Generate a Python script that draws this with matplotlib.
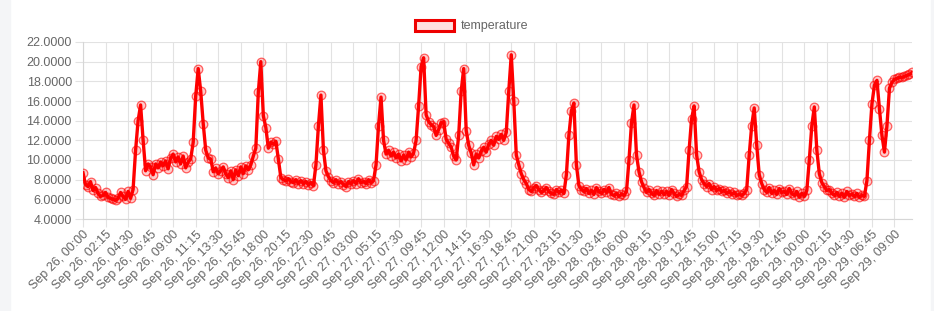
import numpy as np
import matplotlib
matplotlib.use('Agg')
import matplotlib.pyplot as plt
from matplotlib.patches import Patch, Rectangle

# temperature readings, 15 min apart, starting Sep 26 00:00
sep26 = [8.7, 7.5, 7.3, 7.8, 6.9, 7.2, 6.6, 6.3, 6.4, 6.7, 6.2, 6.1,
         6.0, 5.9, 6.1, 6.7, 6.3, 6.0, 6.8, 6.1, 7.0, 11.0, 14.0, 15.6,
         12.0, 8.9, 9.6, 9.3, 8.5, 9.6, 9.2, 9.8, 9.4, 9.9, 9.1, 10.2,
         10.6, 9.8, 10.3, 9.6, 10.4, 9.2, 9.8, 10.1, 11.8, 16.5, 19.3, 17.0,
         13.7, 11.0, 10.2, 10.1, 8.8, 9.2, 8.6, 8.9, 9.3, 8.6, 8.2, 8.9,
         8.0, 9.0, 8.4, 9.3, 8.6, 9.4, 9.0, 9.5, 10.4, 11.2, 16.9, 20.0,
         14.5, 13.3, 11.2, 11.8, 11.6, 11.9, 10.1, 8.2, 8.0, 7.9, 8.1, 7.8,
         7.7, 8.0, 7.6, 7.9, 7.6, 7.8, 7.5, 7.7, 7.4, 9.5, 13.5, 16.6]
sep27 = [11.0, 8.9, 8.3, 7.9, 7.7, 8.0, 7.6, 7.8, 7.5, 7.3, 7.8, 7.6,
         7.9, 7.6, 8.1, 7.7, 7.8, 7.6, 8.0, 7.7, 7.9, 9.5, 13.5, 16.4,
         12.0, 10.6, 11.0, 10.4, 10.8, 10.2, 10.6, 9.9, 10.5, 10.0, 10.8, 10.3,
         10.7, 12.0, 15.5, 19.5, 20.4, 14.6, 13.9, 13.6, 13.4, 12.5, 13.1, 13.8,
         13.9, 12.1, 11.7, 11.3, 10.4, 10.0, 12.5, 17.0, 19.3, 13.0, 11.5, 10.7,
         9.5, 10.6, 10.2, 10.9, 11.3, 10.8, 11.6, 12.0, 11.5, 12.4, 12.1, 12.6,
         12.0, 12.8, 17.0, 20.7, 16.0, 10.5, 9.5, 8.6, 8.0, 7.6, 7.0, 6.8,
         7.2, 7.4, 7.0, 6.7, 6.9, 7.2, 6.8, 6.6, 6.5, 7.0, 6.7, 6.9]
sep28 = [6.6, 8.5, 12.5, 15.0, 15.8, 9.5, 7.4, 7.0, 6.8, 7.1, 6.6, 6.9,
         6.5, 7.2, 6.8, 6.6, 7.0, 6.7, 7.2, 6.5, 6.4, 6.6, 6.3, 6.5,
         6.4, 6.8, 10.0, 13.8, 15.6, 10.5, 8.8, 7.8, 7.2, 6.7, 7.0, 6.6,
         6.4, 6.9, 6.5, 6.8, 6.5, 6.8, 6.4, 7.0, 6.6, 6.3, 6.5, 6.4,
         6.9, 7.3, 11.0, 14.2, 15.5, 10.5, 8.8, 8.0, 7.6, 7.3, 7.6, 7.0,
         7.3, 6.9, 7.1, 6.8, 6.9, 6.6, 6.8, 6.5, 6.7, 6.4, 6.5, 6.4,
         6.6, 7.0, 10.5, 13.5, 15.3, 11.5, 8.5, 7.6, 7.0, 6.7, 7.2, 6.6,
         6.9, 6.5, 7.1, 6.7, 6.8, 6.5, 7.1, 6.6, 6.4, 6.8, 6.2, 6.6]
sep29 = [6.3, 6.9, 10.0, 13.5, 15.4, 11.0, 8.6, 7.7, 7.3, 6.9, 7.0, 6.6,
         6.4, 6.7, 6.3, 6.6, 6.2, 6.8, 6.4, 6.5, 6.3, 6.6, 6.2, 6.4,
         6.3, 7.9, 12.0, 15.7, 17.6, 18.1, 15.2, 12.5, 10.8, 13.5, 17.3, 17.9,
         18.2, 18.3, 18.4, 18.4, 18.5, 18.6, 18.7, 18.9]

tick_labels = ['Sep 26, 00:00', 'Sep 26, 02:15', 'Sep 26, 04:30', 'Sep 26, 06:45',
               'Sep 26, 09:00', 'Sep 26, 11:15', 'Sep 26, 13:30', 'Sep 26, 15:45',
               'Sep 26, 18:00', 'Sep 26, 20:15', 'Sep 26, 22:30', 'Sep 27, 00:45',
               'Sep 27, 03:00', 'Sep 27, 05:15', 'Sep 27, 07:30', 'Sep 27, 09:45',
               'Sep 27, 12:00', 'Sep 27, 14:15', 'Sep 27, 16:30', 'Sep 27, 18:45',
               'Sep 27, 21:00', 'Sep 27, 23:15', 'Sep 28, 01:30', 'Sep 28, 03:45',
               'Sep 28, 06:00', 'Sep 28, 08:15', 'Sep 28, 10:30', 'Sep 28, 12:45',
               'Sep 28, 15:00', 'Sep 28, 17:15', 'Sep 28, 19:30', 'Sep 28, 21:45',
               'Sep 29, 00:00', 'Sep 29, 02:15', 'Sep 29, 04:30', 'Sep 29, 06:45',
               'Sep 29, 09:00']
label_step = 9  # one label every 9 readings (2h15)

temps = np.array(sep26 + sep27 + sep28 + sep29)
x = np.arange(len(temps))

plt.rcParams['font.family'] = ['Liberation Sans', 'DejaVu Sans']
grid_col = '#e2e2e2'
text_col = '#666666'

fig = plt.figure(figsize=(9.34, 3.11), dpi=100)
fig.patch.set_facecolor('white')
# grey page margins either side
fig.add_artist(Rectangle((0, 0), 10 / 934, 1, transform=fig.transFigure, color='#f4f5f7', zorder=0))
fig.add_artist(Rectangle((931 / 934, 0), 3 / 934, 1, transform=fig.transFigure, color='#f4f5f7', zorder=0))

ax = fig.add_axes([83 / 934, 1 - 219 / 311, (912 - 83) / 934, (219 - 42) / 311])

ax.plot(x, temps, color='#ff0000', lw=2.4, marker='o', ms=6.2,
        mfc=(1, 0, 0, 0.2), mec=(1, 0, 0, 0.6), mew=0.9, zorder=3)

ax.set_xlim(0, len(temps) - 1)
ax.set_ylim(4, 22)
ax.set_yticks(np.arange(4, 23, 2))
ax.set_yticklabels(['{:.4f}'.format(v) for v in np.arange(4, 23, 2)])
ax.set_xticks(np.arange(len(tick_labels)) * label_step)
ax.set_xticklabels(tick_labels, rotation=45, ha='right', va='top', rotation_mode='anchor')

ax.grid(True, color=grid_col, lw=0.8)
ax.set_axisbelow(True)
for s in ['top', 'right']:
    ax.spines[s].set_visible(False)
for s in ['left', 'bottom']:
    ax.spines[s].set_color('#d6d6d6')
    ax.spines[s].set_linewidth(0.8)
ax.tick_params(axis='both', colors=grid_col, length=6, width=0.8, labelcolor=text_col, labelsize=9)
ax.tick_params(axis='y', pad=2)
ax.tick_params(axis='x', pad=1)

handle = Patch(facecolor=(1, 0, 0, 0.13), edgecolor='#ee0000', linewidth=2.2)
fig.legend([handle], ['temperature'], loc='center', bbox_to_anchor=(0.505, 1 - 26 / 311),
           frameon=False, fontsize=9, labelcolor=text_col, handlelength=3.1, handleheight=1.0,
           handletextpad=0.5)

fig.savefig('out.png', dpi=100)
